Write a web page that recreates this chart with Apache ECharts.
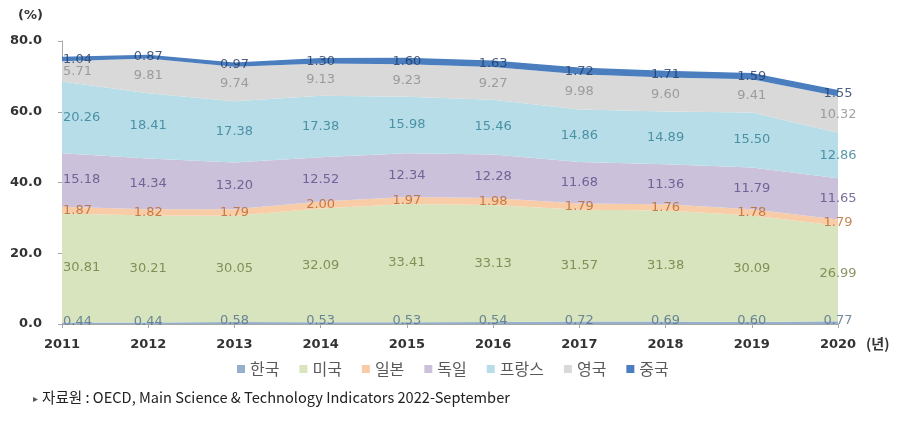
<!DOCTYPE html>
<html><head><meta charset="utf-8">
<script src="https://cdn.jsdelivr.net/npm/echarts@6/dist/echarts.min.js"></script>
<style>html,body{margin:0;padding:0;background:#fff}#c{width:904px;height:422px}</style>
</head><body><div id="c"></div>
<script>
const years = ['2011','2012','2013','2014','2015','2016','2017','2018','2019','2020'];
const seriesNames = ['한국','미국','일본','독일','프랑스','영국','중국'];
const korea   = [0.44,0.44,0.58,0.53,0.53,0.54,0.72,0.69,0.60,0.77];
const usa     = [30.81,30.21,30.05,32.09,33.41,33.13,31.57,31.38,30.09,26.99];
const japan   = [1.87,1.82,1.79,2.00,1.97,1.98,1.79,1.76,1.78,1.79];
const germany = [15.18,14.34,13.20,12.52,12.34,12.28,11.68,11.36,11.79,11.65];
const france  = [20.26,18.41,17.38,17.38,15.98,15.46,14.86,14.89,15.50,12.86];
const uk      = [5.71,9.81,9.74,9.13,9.23,9.27,9.98,9.60,9.41,10.32];
const china   = [1.04,0.87,0.97,1.30,1.60,1.63,1.72,1.71,1.59,1.55];
const yTicks = [0,20,40,60,80];

const values = [korea, usa, japan, germany, france, uk, china];
const areaColors = ['#95B0CD','#D7E4BD','#F9CCA8','#CCC1DA','#B7DEE8','#D9D9D9','#4A7EBF'];
const labelColors = ['#4E6E8C','#6A7B3C','#B8672A','#5B4A85','#2F7D93','#8C8C8C','#1F3864'];
const numFont = '"DejaVu Sans", sans-serif';
const krFont = '"Noto Sans CJK KR", sans-serif';

const series = [];
values.forEach((arr, i) => {
  series.push({
    name: seriesNames[i], type: 'line', stack: 'total', data: arr,
    showSymbol: false, symbol: 'none', silent: true,
    lineStyle: { width: i === 6 ? 1.5 : 0, color: areaColors[i] },
    itemStyle: { color: areaColors[i] },
    areaStyle: { color: areaColors[i], opacity: 1 },
    z: 2
  });
});
// labels at the middle of each band
const cum = years.map(() => 0);
values.forEach((arr, i) => {
  const data = arr.map((v, j) => {
    const mid = cum[j] + v / 2;
    cum[j] += v;
    const item = { value: [j, mid], raw: v };
    if (j === 0) item.label = { align: 'left', offset: [1, i === 0 ? -2 : 0] };
    return item;
  });
  series.push({
    name: 'lbl' + i, type: 'scatter', data: data, symbolSize: 0, silent: true, z: 5,
    label: {
      show: true, position: 'inside', color: labelColors[i],
      fontSize: 13, fontFamily: numFont,
      offset: [0, i === 0 ? -2 : 0],
      formatter: p => p.data.raw.toFixed(2)
    }
  });
});

const chart = echarts.init(document.getElementById('c'));
chart.setOption({
  animation: false,
  backgroundColor: '#fff',
  grid: { left: 62, right: 66, top: 41, bottom: 98 },
  legend: {
    data: seriesNames, left: 232, top: 356, icon: 'rect', itemWidth: 8, itemHeight: 8,
    itemGap: 20, textStyle: { color: '#595959', fontSize: 16, fontFamily: krFont }
  },
  xAxis: {
    type: 'category', data: years, boundaryGap: false,
    axisLine: { lineStyle: { color: '#A6A6A6' } },
    axisTick: { show: true, alignWithLabel: true, length: 4, lineStyle: { color: '#A6A6A6' } },
    axisLabel: { color: '#333', fontSize: 13, fontWeight: 'bold', margin: 14, fontFamily: numFont }
  },
  yAxis: {
    type: 'value', min: yTicks[0], max: yTicks[yTicks.length-1], interval: 20,
    axisLine: { show: true, lineStyle: { color: '#A6A6A6' } },
    axisTick: { show: true, length: 4, lineStyle: { color: '#A6A6A6' } },
    splitLine: { show: false },
    axisLabel: { color: '#333', fontSize: 13, fontWeight: 'bold', margin: 20, formatter: v => v.toFixed(1), fontFamily: numFont }
  },
  graphic: [
    { type: 'text', left: 18, top: 9, style: { text: '(%)', fill: '#333', fontSize: 13, fontWeight: 'bold', fontFamily: numFont } },
    { type: 'text', left: 866, top: 337, style: { text: '(년)', fill: '#333', fontSize: 14, fontWeight: 'bold', fontFamily: krFont } },
    { type: 'text', left: 33, top: 394, style: { text: '▸', fill: '#555', fontSize: 10, fontFamily: numFont } },
    { type: 'text', left: 42, top: 390, style: { text: '자료원 : OECD, Main Science & Technology Indicators 2022-September', fill: '#222', fontSize: 14.6, fontFamily: krFont } }
  ],
  series: series
});
</script></body></html>
